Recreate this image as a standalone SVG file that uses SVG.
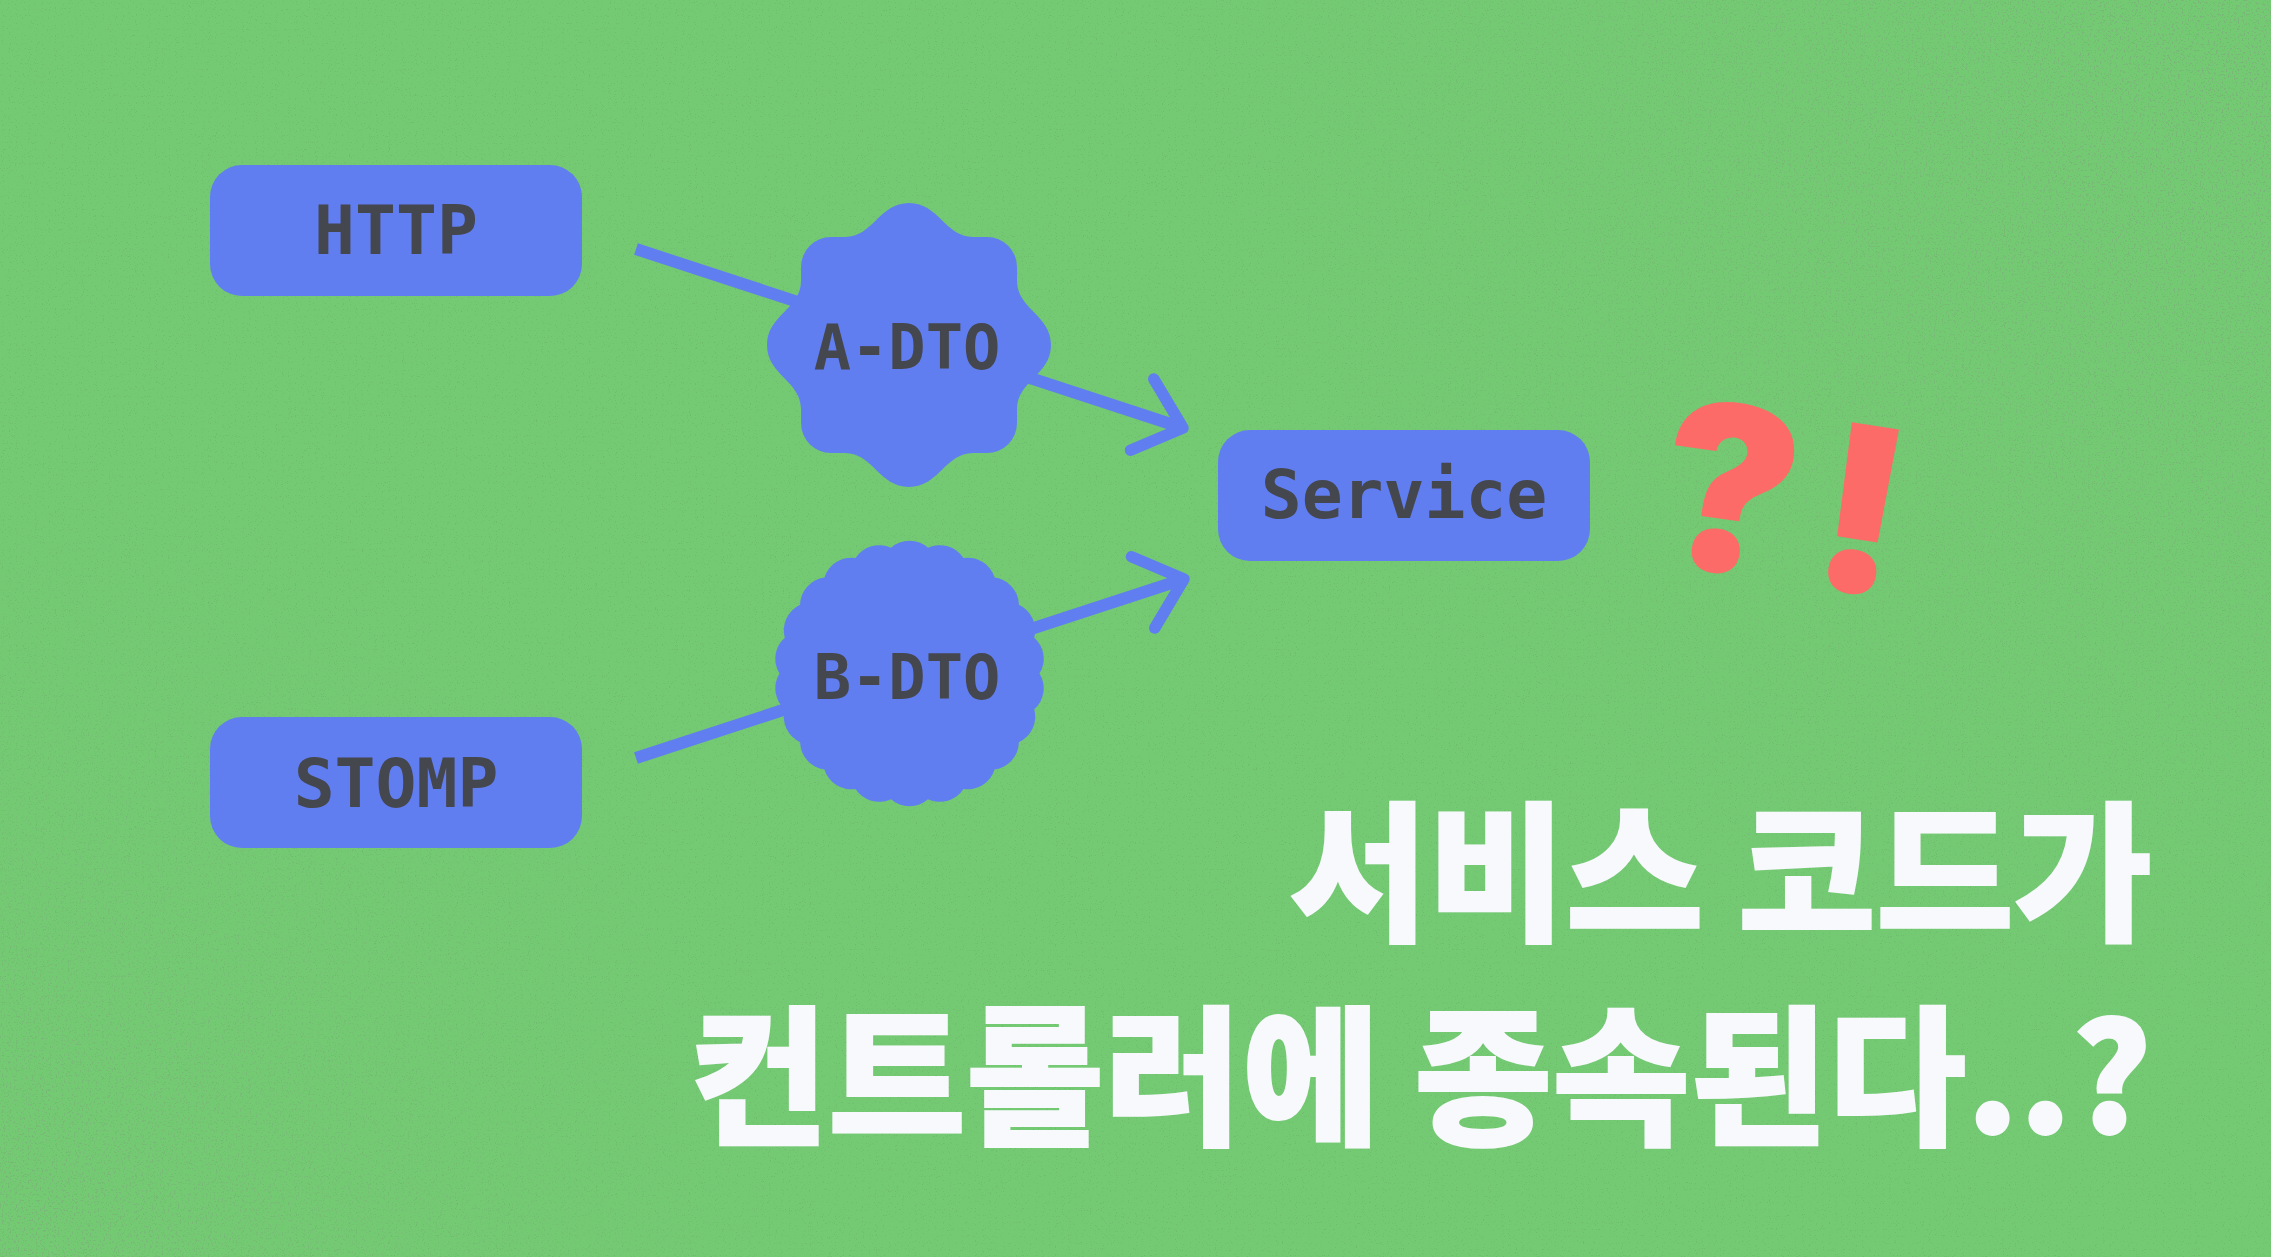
<svg xmlns="http://www.w3.org/2000/svg" width="2271" height="1257" viewBox="0 0 2271 1257">
  <style>
    .box { fill: #617ef0; }
    .lbl { font-family: "DejaVu Sans Mono", "Liberation Mono", monospace; font-weight: bold; fill: #45474f; text-anchor: middle; }
    .big { font-size: 68px; }
    .dto { font-size: 62px; }
    .conn { fill: none; stroke: #617ef0; stroke-width: 12; }
    .head { fill: none; stroke: #617ef0; stroke-width: 11.5; stroke-linecap: round; stroke-linejoin: round; }
    .title { font-family: "Noto Sans CJK KR", "Noto Sans", sans-serif; font-weight: 900; font-size: 150px; fill: #f8f9fd; stroke: #f8f9fd; stroke-width: 2; text-anchor: end; }
    .mark { font-family: Inter, "Noto Sans", sans-serif; font-weight: 900; font-size: 230px; fill: #fd6b68; text-anchor: middle; }
  </style>
  <defs>
    <marker id="arrow" markerUnits="userSpaceOnUse" viewBox="-60 -50 70 100" markerWidth="70" markerHeight="100" refX="0" refY="0" orient="auto" overflow="visible">
      <path class="head" d="M -43 -37.5 L 0 0 L -43 37.5"/>
    </marker>
    <filter id="speck" x="0" y="0" width="100%" height="100%">
      <feTurbulence type="fractalNoise" baseFrequency="0.85" numOctaves="1" seed="7" result="n"/>
      <feColorMatrix in="n" type="matrix" values="0 0 0 0 0.14  0 0 0 0 0.45  0 0 0 0 0.14  14 0 0 0 -8.9"/>
    </filter>
    <filter id="speckDense" x="0" y="0" width="100%" height="100%">
      <feTurbulence type="fractalNoise" baseFrequency="0.5" numOctaves="1" seed="3" result="n"/>
      <feColorMatrix in="n" type="matrix" values="0 0 0 0 0.2  0 0 0 0 0.45  0 0 0 0 0.2  16 0 0 0 -10"/>
    </filter>
    <radialGradient id="gTR" cx="2271" cy="0" r="1100" gradientUnits="userSpaceOnUse">
      <stop offset="0" stop-color="#fff" stop-opacity="1"/>
      <stop offset="0.45" stop-color="#fff" stop-opacity="0.55"/>
      <stop offset="1" stop-color="#fff" stop-opacity="0"/>
    </radialGradient>
    <radialGradient id="gBL" cx="0" cy="1257" r="800" gradientUnits="userSpaceOnUse">
      <stop offset="0" stop-color="#fff" stop-opacity="0.9"/>
      <stop offset="0.5" stop-color="#fff" stop-opacity="0.4"/>
      <stop offset="1" stop-color="#fff" stop-opacity="0"/>
    </radialGradient>
    <mask id="noiseMask" maskUnits="userSpaceOnUse" x="0" y="0" width="2271" height="1257">
      <rect width="2271" height="1257" fill="url(#gTR)"/>
      <rect width="2271" height="1257" fill="url(#gBL)"/>
    </mask>
  </defs>

  <rect width="2271" height="1257" fill="#74c973"/>
  <rect width="2271" height="1257" filter="url(#speck)" opacity="0.5"/>
  <rect width="2271" height="1257" filter="url(#speckDense)" mask="url(#noiseMask)"/>

  <g id="connectors">
    <path class="conn" d="M 636 249 L 1183 428" marker-end="url(#arrow)"/>
    <path class="conn" d="M 636 758 L 1184 579" marker-end="url(#arrow)"/>
  </g>

  <g id="node-http">
    <rect class="box" x="210" y="165" width="372" height="131" rx="32"/>
    <text class="lbl big" x="396" y="254">HTTP</text>
  </g>

  <g id="node-stomp">
    <rect class="box" x="210" y="717" width="372" height="131" rx="32"/>
    <text class="lbl big" x="396" y="807">STOMP</text>
  </g>

  <g id="node-service">
    <rect class="box" x="1218" y="430" width="372" height="131" rx="32"/>
    <text class="lbl big" x="1404" y="518">Service</text>
  </g>

  <g id="node-adto">
    <path class="box" d="M 831 237 L 845 237 C 873 237 879 203 909 203 C 939 203 945 237 973 237 L 987 237 A 30 30 0 0 1 1017 267 L 1017 281 C 1017 309 1051 315 1051 345 C 1051 375 1017 381 1017 409 L 1017 423 A 30 30 0 0 1 987 453 L 973 453 C 945 453 939 487 909 487 C 879 487 873 453 845 453 L 831 453 A 30 30 0 0 1 801 423 L 801 409 C 801 381 767 375 767 345 C 767 315 801 309 801 281 L 801 267 A 30 30 0 0 1 831 237 Z"/>
    <text class="lbl dto" x="907" y="369">A-DTO</text>
  </g>

  <g id="node-bdto">
    <path class="box" d="M 928 547.8 A 28 28 0 0 1 963.5 558 A 28 28 0 0 1 994.6 577.5 A 28 28 0 0 1 1018.9 604.8 A 28 28 0 0 1 1034.2 637.7 A 28 28 0 0 1 1039.5 673.5 A 28 28 0 0 1 1034.2 709.3 A 28 28 0 0 1 1018.9 742.2 A 28 28 0 0 1 994.6 769.5 A 28 28 0 0 1 963.5 789 A 28 28 0 0 1 928 799.2 A 28 28 0 0 1 891 799.2 A 28 28 0 0 1 855.5 789 A 28 28 0 0 1 824.4 769.5 A 28 28 0 0 1 800.1 742.2 A 28 28 0 0 1 784.8 709.3 A 28 28 0 0 1 779.5 673.5 A 28 28 0 0 1 784.8 637.7 A 28 28 0 0 1 800.1 604.8 A 28 28 0 0 1 824.4 577.5 A 28 28 0 0 1 855.5 558 A 28 28 0 0 1 891 547.8 A 28 28 0 0 1 928 547.8 Z"/>
    <text class="lbl dto" x="907" y="699">B-DTO</text>
  </g>

  <g id="marks">
    <text class="mark" x="1730" y="572" transform="rotate(8 1730 488)">?</text>
    <text class="mark" x="1862" y="592" transform="rotate(9 1862 510)">!</text>
  </g>

  <g id="title">
    <text class="title" x="2152" y="929">서비스 코드가</text>
    <text class="title" x="2152" y="1133">컨트롤러에 종속된다..?</text>
  </g>
</svg>
